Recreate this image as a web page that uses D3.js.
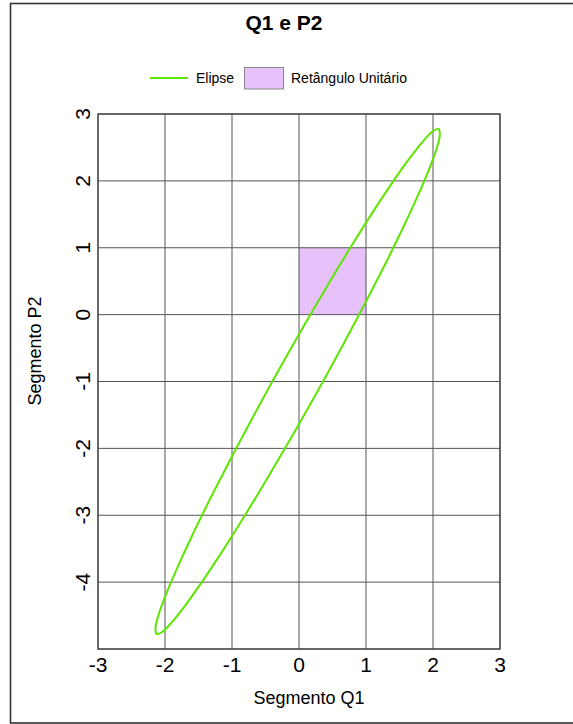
<!DOCTYPE html>
<html>
<head>
<meta charset="utf-8">
<script src="https://cdn.jsdelivr.net/npm/d3@7"></script>
<style>
  html, body { margin: 0; padding: 0; background: #fff; }
  svg { display: block; font-family: "Liberation Sans", Arial, sans-serif; }
</style>
</head>
<body>
<svg id="chart" width="573" height="724"></svg>
<script>
// ---- data ----
const chartTitle = "Q1 e P2";
const xLabel = "Segmento Q1";
const yLabel = "Segmento P2";
const legendLabels = ["Elipse", "Retângulo Unitário"];
const xTicks = [-3, -2, -1, 0, 1, 2, 3];
const yTicks = [-5, -4, -3, -2, -1, 0, 1, 2, 3];
const yTickLabels = [-4, -3, -2, -1, 0, 1, 2, 3];
const unitRectX = [0, 1];
const unitRectY = [0, 1];
const ellipseX = [2.085, 2.002, 1.860, 1.660, 1.408, 1.113, 0.784, 0.430, 0.062, -0.308, -0.669, -1.011,
  -1.322, -1.594, -1.817, -1.987, -2.097, -2.142, -2.125, -2.043, -1.900, -1.700, -1.448, -1.153,
  -0.824, -0.470, -0.102, 0.268, 0.629, 0.971, 1.282, 1.554, 1.777, 1.947, 2.057, 2.102];
const ellipseY = [2.775, 2.746, 2.603, 2.350, 1.996, 1.551, 1.029, 0.444, -0.185, -0.838, -1.496, -2.139,
  -2.747, -3.302, -3.786, -4.187, -4.491, -4.688, -4.775, -4.746, -4.603, -4.350, -3.996, -3.551,
  -3.029, -2.444, -1.815, -1.162, -0.504, 0.139, 0.747, 1.302, 1.786, 2.187, 2.491, 2.688];

// ---- styles ----
const green = "#5ce600";
const purple = "#e6c1fa";
const gridColor = "#555";

const svg = d3.select("#chart");
const plot = { left: 98, right: 500, top: 114, bottom: 649 };

const x = d3.scaleLinear().domain([-3, 3]).range([plot.left, plot.right]);
const y = d3.scaleLinear().domain([-5, 3]).range([plot.bottom, plot.top]);

// outer frame
svg.append("rect")
  .attr("x", 10.5).attr("y", 3.5)
  .attr("width", 620).attr("height", 719.5)
  .attr("fill", "#fff").attr("stroke", "#333").attr("stroke-width", 1.6);

// title
svg.append("text")
  .attr("x", 284).attr("y", 30)
  .attr("text-anchor", "middle")
  .attr("font-size", 21).attr("font-weight", "bold")
  .attr("fill", "#000")
  .text(chartTitle);

// legend
const lg = svg.append("g");
lg.append("line").attr("x1", 150).attr("x2", 188).attr("y1", 78).attr("y2", 78)
  .attr("stroke", green).attr("stroke-width", 2);
lg.append("text").attr("x", 196).attr("y", 83).attr("font-size", 14).text(legendLabels[0]);
lg.append("rect").attr("x", 244.5).attr("y", 67.5).attr("width", 39).attr("height", 21.5)
  .attr("fill", purple).attr("stroke", "#888").attr("stroke-width", 1);
lg.append("text").attr("x", 291).attr("y", 83).attr("font-size", 14).text(legendLabels[1]);

// unit rectangle
svg.append("rect")
  .attr("x", x(unitRectX[0])).attr("y", y(unitRectY[1]))
  .attr("width", x(unitRectX[1]) - x(unitRectX[0]))
  .attr("height", y(unitRectY[0]) - y(unitRectY[1]))
  .attr("fill", purple);

// grid
const grid = svg.append("g").attr("stroke", gridColor).attr("stroke-width", 1);
grid.selectAll("line.v").data(xTicks).join("line")
  .attr("x1", d => x(d)).attr("x2", d => x(d))
  .attr("y1", plot.top).attr("y2", plot.bottom);
grid.selectAll("line.h").data(yTicks).join("line")
  .attr("x1", plot.left).attr("x2", plot.right)
  .attr("y1", d => y(d)).attr("y2", d => y(d));

// plot border
svg.append("rect")
  .attr("x", plot.left).attr("y", plot.top)
  .attr("width", plot.right - plot.left).attr("height", plot.bottom - plot.top)
  .attr("fill", "none").attr("stroke", "#444").attr("stroke-width", 1.3);

// ellipse
const pts = ellipseX.map((d, i) => [d, ellipseY[i]]);
const line = d3.line().x(d => x(d[0])).y(d => y(d[1])).curve(d3.curveCatmullRomClosed);
svg.append("path").attr("d", line(pts))
  .attr("fill", "none").attr("stroke", green).attr("stroke-width", 2);

// x tick labels
svg.append("g").selectAll("text").data(xTicks).join("text")
  .attr("x", d => x(d)).attr("y", 672)
  .attr("text-anchor", "middle").attr("font-size", 21)
  .text(d => d3.format("d")(d).replace("−", "-"));

// y tick labels (rotated)
svg.append("g").selectAll("text").data(yTickLabels).join("text")
  .attr("transform", d => `translate(90,${y(d)}) rotate(-90)`)
  .attr("text-anchor", "middle").attr("font-size", 21)
  .text(d => d3.format("d")(d).replace("−", "-"));

// axis titles
svg.append("text").attr("x", 309).attr("y", 704)
  .attr("text-anchor", "middle").attr("font-size", 18).text(xLabel);
svg.append("text")
  .attr("transform", "translate(41,351) rotate(-90)")
  .attr("text-anchor", "middle").attr("font-size", 18).text(yLabel);
</script>
</body>
</html>
